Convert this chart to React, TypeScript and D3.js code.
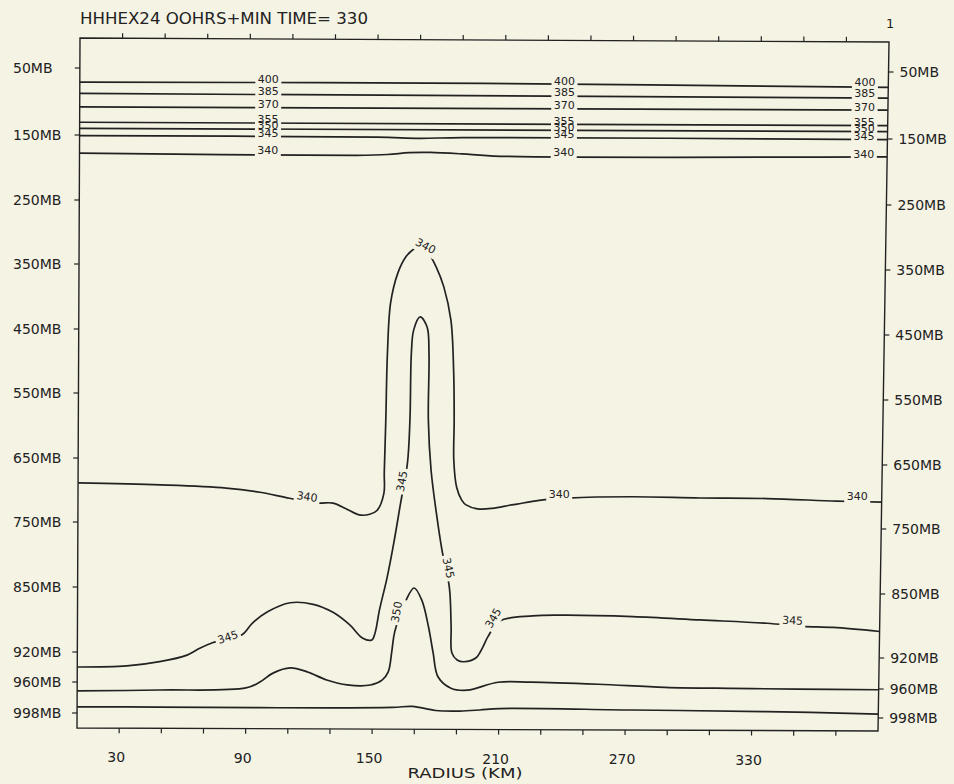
import React from 'react';
import * as d3 from 'd3';

// ---------- text ----------
const TITLE = 'HHHEX24 OOHRS+MIN TIME= 330';
const PAGE_MARK = '1';
const X_TITLE = 'RADIUS (KM)';

// ---------- axes ----------
const RADIUS_DOMAIN = [10, 390];
const RADIUS_TICKS = [30, 50, 70, 90, 110, 130, 150, 170, 190, 210, 230, 250, 270, 290, 310, 330, 350, 370];
const RADIUS_TICK_LABELS = [30, 90, 150, 210, 270, 330];
const PRESSURE_LEVELS = [50, 150, 250, 350, 450, 550, 650, 750, 850, 920, 960, 998];
const P_TOP = 5;
const P_BOTTOM = 1016;

// ---------- contours: [radius km, pressure mb] ----------
const THETA_400 = [[10, 71], [200, 70], [390, 73]];
const THETA_385 = [[10, 88], [390, 89]];
const THETA_370 = [[10, 108], [390, 107]];
const THETA_355 = [[10, 131], [390, 130]];
const THETA_350_UPPER = [[10, 140], [390, 139]];
const THETA_345_UPPER = [[10, 151], [150, 151], [170, 152.5], [190, 151], [390, 151]];
const THETA_340_UPPER = [[10, 178], [140, 179], [155, 177.5], [165, 174.5], [175, 174], [190, 176], [205, 179], [390, 177]];

const THETA_340_LOWER = [
  [10, 689], [49, 691], [80, 695], [96, 701], [110, 710], [123.5, 717], [130.6, 717], [137, 726],
  [143, 735], [148, 734], [151.4, 728], [154.6, 701], [154.7, 669], [155.2, 588], [155.7, 484],
  [157, 406], [160.3, 360], [164, 335], [168, 322], [171, 317], [174.6, 329], [178.4, 351],
  [182, 381], [185.5, 432], [187, 509], [187.5, 587], [187.5, 648], [189, 691], [191.5, 711],
  [193.5, 718], [199, 724], [206, 723], [214, 718], [217.6, 716], [228, 710], [241.5, 706],
  [272, 703], [304, 704], [335.7, 704], [368.7, 707], [390, 708],
];
const THETA_345_LOWER = [
  [10, 940], [33.5, 938], [49, 932], [62, 923], [68, 915], [74, 909], [81, 904],
  [88, 900], [93, 887], [100, 875], [110.7, 865], [121.6, 866.5], [131, 875], [139, 888.5],
  [145, 902.5], [149.5, 904.6], [151, 897], [153, 872], [156.5, 831], [159.5, 778], [162.5, 717],
  [165.6, 654], [166.6, 587.5], [167, 483], [168, 447.5], [171, 427.5], [174.3, 443], [175.3, 483],
  [175.3, 587], [176.8, 664], [179.5, 731], [182.3, 788], [186, 846], [187, 889],
  [187.5, 918], [190, 926.7], [193.2, 929], [199, 923.6], [202, 912], [204.5, 900], [210, 883],
  [225.6, 877], [241.8, 876], [273, 877], [305, 880], [336.5, 883], [353.5, 886], [368, 887], [390, 891],
];
const THETA_350_LOWER = [
  [10, 971], [49, 969], [90, 965.5], [96.6, 958], [102.8, 946], [111, 939], [119, 944], [128.3, 954.4],
  [138, 960.7], [149, 960.6], [154.5, 954], [157.4, 943], [159, 917], [160.3, 895.6], [165.6, 861],
  [169.3, 847], [173, 861], [176.3, 890], [178.6, 918], [181, 949], [187.2, 963.7], [195, 966],
  [209.5, 955.5], [225, 955], [257, 957], [288.6, 960.2], [320, 960.9], [351.5, 961], [390, 961],
];
const THETA_BOTTOM = [
  [10, 990.6], [49, 990], [96.6, 990], [159.5, 988.5], [169, 987], [180, 992], [191.5, 992.5],
  [201, 991], [210.3, 989], [273.4, 989.7], [337, 990.6], [390, 992.8],
];

const CONTOURS = [
  THETA_400, THETA_385, THETA_370, THETA_355, THETA_350_UPPER, THETA_345_UPPER, THETA_340_UPPER,
  THETA_340_LOWER, THETA_345_LOWER, THETA_350_LOWER, THETA_BOTTOM,
];

// ---------- contour labels: text, radius, pressure, angle ----------
const UPPER_LABEL_VALUES = ['400', '385', '370', '355', '350', '345', '340'];
const UPPER_LABEL_PRESSURES = [66, 83, 103, 126, 135, 146, 173];
const UPPER_LABEL_RADII = [98.6, 237.8, 379];

const LOWER_LABEL_TEXT = ['340', '340', '345', '345', '350', '345', '345', '340', '340', '345'];
const LOWER_LABEL_RADIUS = [118.3, 173.2, 81.3, 163.2, 161.3, 185.3, 207, 237.5, 378.4, 348.7];
const LOWER_LABEL_PRESSURE = [708, 318.5, 903, 682, 874, 816, 880, 700, 699, 880];
const LOWER_LABEL_ANGLE = [8, 28, -18, -80, -80, 78, -60, 0, 0, 3];

// ---------- layout ----------
const W = 954;
const H = 784;
const BG = '#f5f3e4';
const INK = '#222';
const FONT = '"DejaVu Sans", Verdana, sans-serif';
const Y_LEFT_RANGE = [38, 68, 135, 200, 264, 329, 393, 458, 522, 587, 652, 682, 713, 728];
const Y_RIGHT_RANGE = [42, 72, 139, 205, 270, 335, 400, 465, 529, 594, 658, 689, 718, 731];

const pDomain = [P_TOP, ...PRESSURE_LEVELS, P_BOTTOM];
const yLeft = d3.scaleLinear().domain(pDomain).range(Y_LEFT_RANGE);
const yRight = d3.scaleLinear().domain(pDomain).range(Y_RIGHT_RANGE);
const uScale = d3.scaleLinear().domain(RADIUS_DOMAIN).range([0, 1]);
const xLeftEdge = d3.scaleLinear().domain([38, 728]).range([80, 77]);
const xRightEdge = d3.scaleLinear().domain([42, 731]).range([889, 878]);

function project(km: number, p: number): [number, number] {
  const u = uScale(km);
  const yl = yLeft(p);
  const yr = yRight(p);
  const y = yl + u * (yr - yl);
  const xl = xLeftEdge(y);
  const xr = xRightEdge(y);
  return [xl + u * (xr - xl), y];
}

const lineGen = d3.line<[number, number]>().curve(d3.curveCatmullRom.alpha(0.5));

export default function App() {
  const corners = [
    project(RADIUS_DOMAIN[0], P_TOP),
    project(RADIUS_DOMAIN[1], P_TOP),
    project(RADIUS_DOMAIN[1], P_BOTTOM),
    project(RADIUS_DOMAIN[0], P_BOTTOM),
  ];
  const framePath = 'M' + corners.map((c) => c.join(',')).join('L') + 'Z';

  const labels: { t: string; x: number; y: number; a: number }[] = [];
  UPPER_LABEL_VALUES.forEach((t, i) => {
    UPPER_LABEL_RADII.forEach((km) => {
      const [x, y] = project(km, UPPER_LABEL_PRESSURES[i]);
      labels.push({ t, x, y, a: 0 });
    });
  });
  LOWER_LABEL_TEXT.forEach((t, i) => {
    const [x, y] = project(LOWER_LABEL_RADIUS[i], LOWER_LABEL_PRESSURE[i]);
    labels.push({ t, x, y, a: LOWER_LABEL_ANGLE[i] });
  });

  return (
    <svg
      width={W}
      height={H}
      viewBox={`0 0 ${W} ${H}`}
      style={{ position: 'absolute', left: 0, top: 0, display: 'block' }}
      fontFamily={FONT}
    >
      <rect x={0} y={0} width={W} height={H} fill={BG} />
      <text x={80} y={24} fontSize={16} fill={INK} textLength={288} lengthAdjust="spacingAndGlyphs">
        {TITLE}
      </text>
      <text x={886} y={28} fontSize={13} fill={INK}>
        {PAGE_MARK}
      </text>

      {/* frame */}
      <path d={framePath} fill="none" stroke={INK} strokeWidth={1.4} />

      {/* top & bottom ticks */}
      {RADIUS_TICKS.map((km) => {
        const [xt, yt] = project(km, P_TOP);
        const [xb, yb] = project(km, P_BOTTOM);
        return (
          <g key={'rt' + km} stroke={INK} strokeWidth={1.2}>
            <line x1={xt} y1={yt} x2={xt} y2={yt - 5} />
            <line x1={xb} y1={yb} x2={xb} y2={yb + 5} />
          </g>
        );
      })}
      {RADIUS_TICK_LABELS.map((km) => {
        const [xb, yb] = project(km, P_BOTTOM);
        return (
          <text key={'rl' + km} x={xb - 3} y={yb + 34} fontSize={14} fill={INK} textAnchor="middle">
            {km}
          </text>
        );
      })}
      <text x={465} y={778} fontSize={14} fill={INK} textAnchor="middle" textLength={115} lengthAdjust="spacingAndGlyphs">
        {X_TITLE}
      </text>

      {/* pressure ticks and labels */}
      {PRESSURE_LEVELS.map((p) => {
        const [xl, yl] = project(RADIUS_DOMAIN[0], p);
        const [xr, yr] = project(RADIUS_DOMAIN[1], p);
        return (
          <g key={'p' + p}>
            <line x1={xl - 5} y1={yl} x2={xl} y2={yl} stroke={INK} strokeWidth={1.2} />
            <line x1={xr} y1={yr} x2={xr + 5} y2={yr} stroke={INK} strokeWidth={1.2} />
            <text x={13} y={yl + 5} fontSize={14} fill={INK}>
              {p + 'MB'}
            </text>
            <text x={xr + 11} y={yr + 5} fontSize={14} fill={INK}>
              {p + 'MB'}
            </text>
          </g>
        );
      })}

      {/* contours */}
      {CONTOURS.map((c, i) => (
        <path
          key={'c' + i}
          d={lineGen(c.map(([km, p]) => project(km, p))) || ''}
          fill="none"
          stroke={INK}
          strokeWidth={1.7}
          strokeLinejoin="round"
        />
      ))}

      {/* label masks */}
      {labels.map((l, i) => (
        <rect
          key={'m' + i}
          x={-13}
          y={-4}
          width={26}
          height={12}
          fill={BG}
          transform={`translate(${l.x},${l.y}) rotate(${l.a})`}
        />
      ))}
      {labels.map((l, i) => (
        <text
          key={'l' + i}
          fontSize={11}
          fill={INK}
          textAnchor="middle"
          dominantBaseline="central"
          transform={`translate(${l.x},${l.y}) rotate(${l.a})`}
        >
          {l.t}
        </text>
      ))}
    </svg>
  );
}
